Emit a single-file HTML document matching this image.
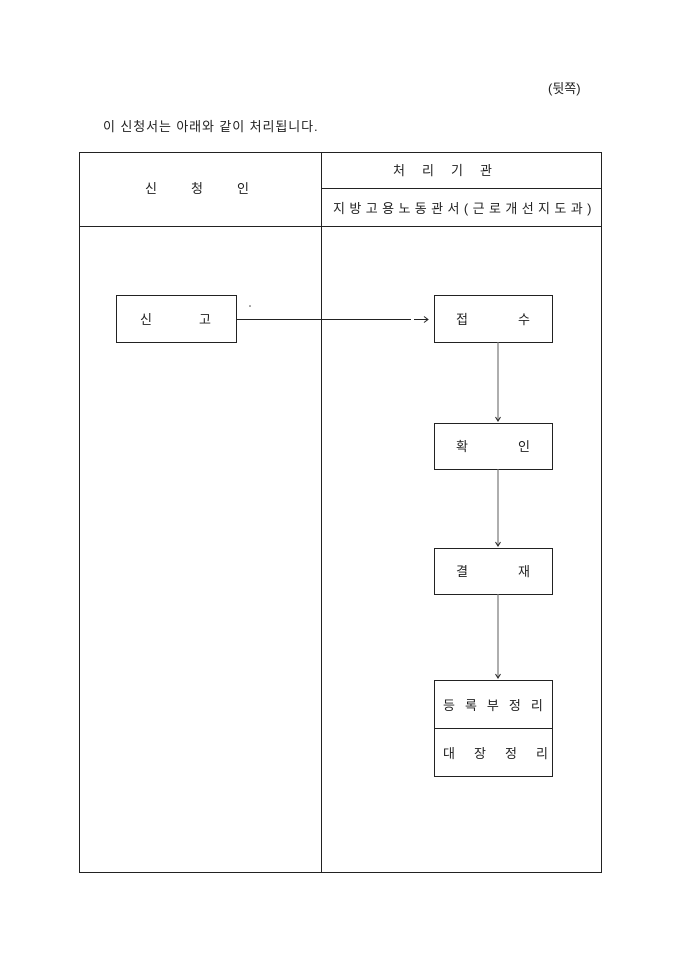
<!DOCTYPE html>
<html><head><meta charset="utf-8"><style>
html,body{margin:0;padding:0;background:#fff;width:680px;height:962px;overflow:hidden}
text{font-family:"Liberation Sans","Noto Sans CJK KR","NanumGothic",sans-serif;fill:#222;font-size:13px}
</style></head><body>
<svg width="680" height="962" viewBox="0 0 680 962" xmlns="http://www.w3.org/2000/svg">
<text x="548" y="93" font-size="12">(뒷쪽)</text>
<text x="103" y="131" font-size="13" letter-spacing="0.9">이 신청서는 아래와 같이 처리됩니다.</text>
<g fill="none" stroke="#222" stroke-width="1">
<rect x="79.5" y="152.5" width="522" height="720"/>
<line x1="321.5" y1="152" x2="321.5" y2="873"/>
<line x1="321" y1="188.5" x2="601" y2="188.5"/>
<line x1="79" y1="226.5" x2="601" y2="226.5"/>
<rect x="116.5" y="295.5" width="120" height="47"/>
<rect x="434.5" y="295.5" width="118" height="47"/>
<rect x="434.5" y="423.5" width="118" height="46"/>
<rect x="434.5" y="548.5" width="118" height="46"/>
<rect x="434.5" y="680.5" width="118" height="96"/>
<line x1="434" y1="728.5" x2="553" y2="728.5"/>
<line x1="237" y1="319.5" x2="411" y2="319.5"/>
</g>
<g stroke="#777" stroke-width="1.2">
<line x1="498" y1="342" x2="498" y2="420"/>
<line x1="498" y1="469" x2="498" y2="545"/>
<line x1="498" y1="594" x2="498" y2="677"/>
</g>
<g fill="none" stroke="#222" stroke-width="1">
<path d="M414 319.5H428M424 316.5L428 319.5L424 322.5"/>
<path d="M495.5 417L498 421L500.5 417"/>
<path d="M495.5 542L498 546L500.5 542"/>
<path d="M495.5 674L498 678L500.5 674"/>
</g>
<circle cx="250" cy="306" r="0.8" fill="#444"/>
<text x="145" y="193">신</text><text x="191" y="193">청</text><text x="237" y="193">인</text>
<text x="393" y="175">처</text><text x="422" y="175">리</text><text x="451" y="175">기</text><text x="480" y="175">관</text>
<text x="333" y="213" letter-spacing="4.4">지방고용노동관서(근로개선지도과)</text>
<text x="140" y="324">신</text><text x="199" y="324">고</text>
<text x="456" y="324">접</text><text x="518" y="324">수</text>
<text x="456" y="451">확</text><text x="518" y="451">인</text>
<text x="456" y="576">결</text><text x="518" y="576">재</text>
<text x="443" y="710" letter-spacing="10">등록부정리</text>
<text x="443" y="758">대</text><text x="474" y="758">장</text><text x="505" y="758">정</text><text x="536" y="758">리</text>
</svg>
</body></html>
